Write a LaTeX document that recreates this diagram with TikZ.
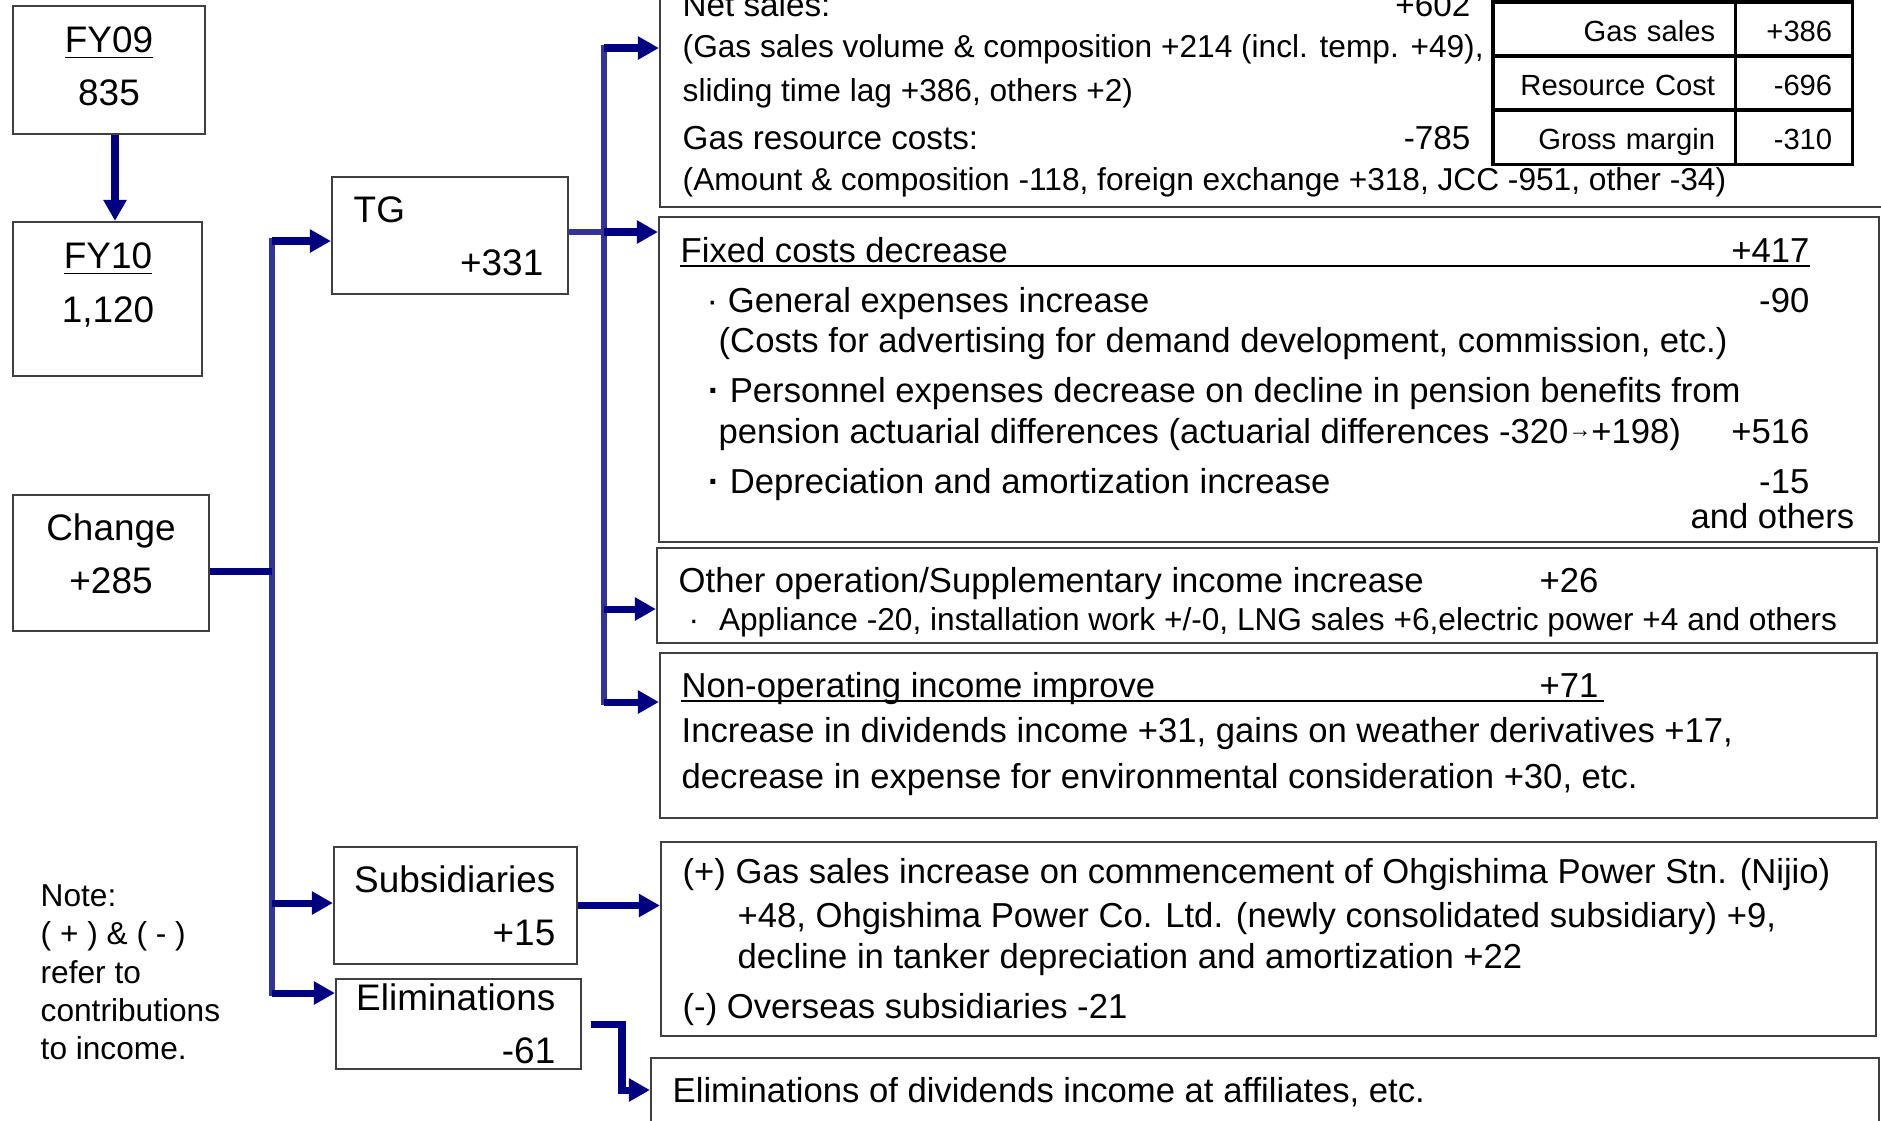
\documentclass[tikz,border=0pt]{standalone}
\usepackage{fontspec}
\setmainfont{Liberation Sans}
\usetikzlibrary{
  positioning,
  arrows.meta,
  fit
}
\definecolor{arrowblue}{HTML}{000080}
\definecolor{trunkblue}{HTML}{333399}

\begin{document}
\begin{tikzpicture}[
  x=0.01cm, y=-0.01cm,
  box/.style={draw=black!75, line width=0.6pt, inner sep=0pt},
  lbl/.style={font=\fontsize{10.5}{12.6}\selectfont, inner sep=0pt},
  txt/.style={font=\fontsize{9.85}{12}\selectfont, inner sep=0pt},
  sml/.style={font=\fontsize{9}{10.9}\selectfont, inner sep=0pt},
  mid/.style={font=\fontsize{9.45}{11.4}\selectfont, inner sep=0pt},
  cell/.style={draw=black, line width=0.9pt, fill=white, outer sep=0pt,
    inner xsep=0.2cm, inner ysep=0pt, minimum height=0.54cm, align=right,
    text height=1.6ex, text depth=0.3ex, font=\fontsize{8.3}{10}\selectfont},
  arr/.style={-{Triangle[length=0.21cm, width=0.22cm]}, line width=2pt, arrowblue},
  stub/.style={line width=2pt, arrowblue},
  trunk/.style={line width=1.7pt, trunkblue},
]
  \useasboundingbox (0,0) rectangle (1881,1120);

  % Left column: years and change
  \node[box, fit={(13,6) (205,134)}] (fyprev) {};
  \node[lbl, anchor=base] (fyprevlbl) at (109,52) {\underline{FY09}};
  \node[lbl, anchor=base] (fyprevval) at (109,105) {835};

  \node[box, fit={(13,222) (202,376)}] (fycur) {};
  \node[lbl, anchor=base] (fycurlbl) at (108,268) {\underline{FY10}};
  \node[lbl, anchor=base] (fycurval) at (108,322) {1,120};

  \node[box, fit={(13,495) (209,631)}] (chg) {};
  \node[lbl, anchor=base] (chglbl) at (111,540) {Change};
  \node[lbl, anchor=base] (chgval) at (111,593) {+285};

  \node[sml, anchor=north west, align=left] (note) at (40,884)
    {Note:\\( + ) \& ( - )\\refer to\\contributions\\to income.};

  % Middle column: segments
  \node[box, fit={(332,177) (568,294)}] (tgbox) {};
  \node[lbl, anchor=base west] (tglbl) at (353,222) {TG};
  \node[lbl, anchor=base east] (tgval) at (544,275) {+331};

  \node[box, fit={(334,847) (577,964)}] (subbox) {};
  \node[lbl, anchor=base east] (sublbl) at (556,892) {Subsidiaries};
  \node[lbl, anchor=base east] (subval) at (556,945) {+15};

  \node[box, fit={(336,979) (581,1069)}] (elimbox) {};
  \node[lbl, anchor=base east] (elimlbl) at (556,1010) {Eliminations};
  \node[lbl, anchor=base east] (elimval) at (556,1063) {-61};

  % Right column: breakdown boxes
  \node[box, fit={(660,-20) (1884,207)}] (salesbox) {};
  \node[mid, anchor=base west] (sales1) at (682,16) {Net sales:};
  \node[mid, anchor=base east] (sales1v) at (1471,16) {+602};
  \node[sml, anchor=base west] (sales2) at (682,57) {(Gas sales volume \& composition +214 (incl. temp. +49),};
  \node[sml, anchor=base west] (sales3) at (682,101) {sliding time lag +386, others +2)};
  \node[mid, anchor=base west] (cost1) at (682,149) {Gas resource costs:};
  \node[mid, anchor=base east] (cost1v) at (1471,149) {-785};
  \node[sml, anchor=base west] (cost2) at (682,190) {(Amount \& composition -118, foreign exchange +318, JCC -951, other -34)};

  \node[cell, text width=2.02cm, anchor=north west] (tgas) at (1493,2) {Gas sales};
  \node[cell, text width=0.77cm, right=0pt of tgas] (tgasv) {+386};
  \node[cell, text width=2.02cm, below=0pt of tgas] (tres) {Resource Cost};
  \node[cell, text width=0.77cm, right=0pt of tres] (tresv) {-696};
  \node[cell, text width=2.02cm, below=0pt of tres] (tgross) {Gross margin};
  \node[cell, text width=0.77cm, right=0pt of tgross] (tgrossv) {-310};

  \node[box, fit={(659,217) (1879,542)}] (fixedbox) {};
  \node[txt, anchor=base west] (fixhead) at (680,262) {Fixed costs decrease};
  \node[txt, anchor=base east] (fixheadv) at (1810,262) {+417};
  \draw[line width=0.6pt] (680,266) -- (1810,266);
  \node[txt, anchor=base west] (fixgen) at (706,312) {· General expenses increase};
  \node[txt, anchor=base east] (fixgenv) at (1810,312) {-90};
  \node[txt, anchor=base west] (fixgen2) at (718,352) {(Costs for advertising for demand development, commission, etc.)};
  \node[txt, anchor=base west] (fixper) at (708,402) {\textbf{·} Personnel expenses decrease on decline in pension benefits from};
  \node[txt, anchor=base west] (fixper2) at (718,443)
    {pension actuarial differences (actuarial differences -320\raisebox{0.15em}{\fontsize{6.5}{7}\selectfont →}+198)};
  \node[txt, anchor=base east] (fixperv) at (1810,443) {+516};
  \node[txt, anchor=base west] (fixdep) at (708,493) {\textbf{·} Depreciation and amortization increase};
  \node[txt, anchor=base east] (fixdepv) at (1810,493) {-15};
  \node[txt, anchor=base east] (fixothers) at (1855,528) {and others};

  \node[box, fit={(657,548) (1877,643)}] (otherbox) {};
  \node[txt, anchor=base west] (otherhead) at (678,592) {Other operation/Supplementary income increase};
  \node[txt, anchor=base east] (otherheadv) at (1599,592) {+26};
  \node[sml, anchor=base west] (otherdet) at (688,630)
    {·\hspace{0.11cm} Appliance -20, installation work +/-0, LNG sales +6,electric power +4 and others};

  \node[box, fit={(660,653) (1877,818)}] (nonopbox) {};
  \node[txt, anchor=base west] (nonophead) at (681,697) {Non-operating income improve};
  \node[txt, anchor=base east] (nonopheadv) at (1599,697) {+71};
  \draw[line width=0.6pt] (681,701) -- (1604,701);
  \node[txt, anchor=base west] (nonop1) at (681,742) {Increase in dividends income +31, gains on weather derivatives +17,};
  \node[txt, anchor=base west] (nonop2) at (681,788) {decrease in expense for environmental consideration +30, etc.};

  \node[box, fit={(661,842) (1876,1036)}] (subdetail) {};
  \node[txt, anchor=base west] (sub1) at (682,883) {(+) Gas sales increase on commencement of Ohgishima Power Stn. (Nijio)};
  \node[txt, anchor=base west] (sub2) at (737,927) {+48, Ohgishima Power Co. Ltd. (newly consolidated subsidiary) +9,};
  \node[txt, anchor=base west] (sub3) at (737,968) {decline in tanker depreciation and amortization +22};
  \node[txt, anchor=base west] (sub4) at (682,1018) {(-) Overseas subsidiaries -21};

  \node[box, fit={(651,1058) (1879,1122)}] (elimdetail) {};
  \node[txt, anchor=base west] (elim1) at (672,1102) {Eliminations of dividends income at affiliates, etc.};

  % Connectors
  \coordinate (ltop) at (272,238);
  \coordinate (lbot) at (272,996);
  \coordinate (ljoin) at (272,571);
  \coordinate (ltg) at (272,241);
  \coordinate (lsub) at (272,903);
  \coordinate (lelim) at (272,993);
  \coordinate (rtop) at (604,45);
  \coordinate (rbot) at (604,705);
  \coordinate (rtg) at (604,232);
  \coordinate (rsales) at (604,48);
  \coordinate (rfixed) at (604,232);
  \coordinate (rother) at (604,609);
  \coordinate (rnonop) at (604,702);
  \coordinate (eout) at (591,1024);
  \coordinate (ebend) at (622,1024);

  \draw[arr] ([xshift=0.06cm]fyprev.south) -- ([xshift=0.06cm]fyprev.south |- fycur.north);

  \draw[trunk] (ltop) -- (lbot);
  \draw[stub] (chg.east |- ljoin) -- (ljoin);
  \draw[arr] (ltg) -- (ltg -| tgbox.west);
  \draw[arr] (lsub) -- (lsub -| subbox.west);
  \draw[arr] (lelim) -- (lelim -| elimbox.west);

  \draw[trunk] (rtop) -- (rbot);
  \draw[trunk] (tgbox.east |- rtg) -- (rtg);
  \draw[arr] (rsales) -- (rsales -| salesbox.west);
  \draw[arr] (rfixed) -- (rfixed -| fixedbox.west);
  \draw[arr] (rother) -- (rother -| otherbox.west);
  \draw[arr] (rnonop) -- (rnonop -| nonopbox.west);

  \draw[arr] (subbox.east) -- (subbox.east -| subdetail.west);
  \draw[arr] (eout) -- (ebend) |- (elimdetail.west);
\end{tikzpicture}
\end{document}
